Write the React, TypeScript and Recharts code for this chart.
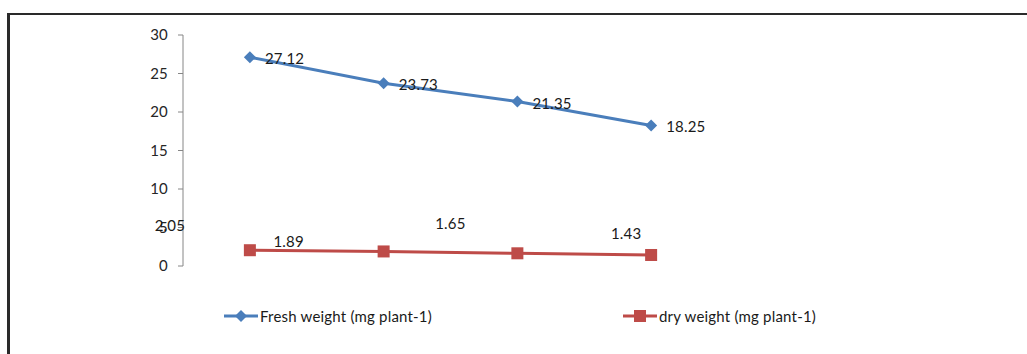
import React from 'react';
import { LineChart, Line, XAxis, YAxis, Legend, LabelList } from 'recharts';

// Treatments along the x axis (not labelled on the chart)
const categories = ['T1', 'T2', 'T3', 'T4'];
// Fresh weight (mg plant-1)
const freshWeight = [27.12, 23.73, 21.35, 18.25];
// Dry weight (mg plant-1)
const dryWeight = [2.05, 1.89, 1.65, 1.43];
// Y axis ticks
const yTicks = [0, 5, 10, 15, 20, 25, 30];

const FRESH_NAME = 'Fresh weight (mg plant-1)';
const DRY_NAME = 'dry weight (mg plant-1)';
const BLUE = '#4A7EBB';
const RED = '#BE4B48';
const FONT = 'Lato, "Open Sans", sans-serif';
const FS = 15;
const LS = 0.2;

const data = categories.map((c, i) => ({
  category: c,
  fresh: freshWeight[i],
  dry: dryWeight[i],
}));

// Where each dry-weight label sits relative to its point
const dryLabelShift: [number, number][] = [
  [-80, -25],
  [-95, -10],
  [-67, -30],
  [-25, -22],
];

const Diamond = (p: any) => {
  const { cx, cy } = p;
  if (cx == null || cy == null) return <g />;
  return (
    <path
      d={`M${cx - 6},${cy} L${cx},${cy - 6} L${cx + 6},${cy} L${cx},${cy + 6} Z`}
      fill={BLUE}
    />
  );
};

const Square = (p: any) => {
  const { cx, cy } = p;
  if (cx == null || cy == null) return <g />;
  return <rect x={cx - 6} y={cy - 6} width={12} height={12} fill={RED} />;
};

const FreshLabel = (p: any) => {
  const { x, y, value } = p;
  return (
    <text
      x={x + 15}
      y={y + 1}
      dominantBaseline="central"
      fontSize={FS}
      letterSpacing={LS}
      fontFamily={FONT}
      fill="#1a1a1a"
    >
      {value}
    </text>
  );
};

const DryLabel = (p: any) => {
  const { x, y, value, index } = p;
  const [dx, dy] = dryLabelShift[index] || [0, -15];
  return (
    <text
      x={x + dx}
      y={y + dy}
      textAnchor="middle"
      dominantBaseline="central"
      fontSize={FS}
      letterSpacing={LS}
      fontFamily={FONT}
      fill="#1a1a1a"
    >
      {value}
    </text>
  );
};

const LegendItem = ({ color, square, label }: { color: string; square: boolean; label: string }) => (
  <div style={{ display: 'flex', alignItems: 'center', width: 399 }}>
    <svg width={34} height={14} style={{ marginRight: 2 }}>
      <line x1={0} y1={7} x2={34} y2={7} stroke={color} strokeWidth={3} />
      {square ? (
        <rect x={11} y={1} width={12} height={12} fill={color} />
      ) : (
        <path d="M11,7 L17,1 L23,7 L17,13 Z" fill={color} />
      )}
    </svg>
    <span
      style={{
        fontFamily: FONT,
        fontSize: FS,
        letterSpacing: LS,
        color: '#1a1a1a',
        whiteSpace: 'nowrap',
      }}
    >
      {label}
    </span>
  </div>
);

const renderLegend = () => (
  <div style={{ display: 'flex' }}>
    <LegendItem color={BLUE} square={false} label={FRESH_NAME} />
    <LegendItem color={RED} square={true} label={DRY_NAME} />
  </div>
);

export default function App() {
  return (
    <div
      style={{
        position: 'absolute',
        left: 0,
        top: 0,
        width: 1027,
        height: 354,
        background: '#fff',
        overflow: 'hidden',
      }}
    >
      <div
        style={{
          position: 'absolute',
          left: 7,
          top: 13,
          width: 1100,
          height: 400,
          borderTop: '2px solid #2a2a2a',
          borderLeft: '3px solid #2a2a2a',
        }}
      />
      <div style={{ position: 'absolute', left: 0, top: 0 }}>
        <LineChart width={1027} height={354} data={data} margin={{ top: 35, right: 309, bottom: 88, left: 0 }}>
          <XAxis dataKey="category" scale="band" hide />
          <YAxis
            width={183}
            domain={[0, 30]}
            ticks={yTicks}
            interval={0}
            axisLine={{ stroke: '#868686' }}
            tickLine={{ stroke: '#868686' }}
            tickSize={5}
            tickMargin={10}
            tick={{ fill: '#262626', fontSize: FS, fontFamily: FONT, letterSpacing: LS }}
          />
          <Legend
            layout="horizontal"
            verticalAlign="middle"
            align="center"
            content={renderLegend}
            wrapperStyle={{ position: 'absolute', left: 224, top: 307, width: 800, height: 16 }}
          />
          <Line
            type="linear"
            dataKey="fresh"
            name={FRESH_NAME}
            stroke={BLUE}
            strokeWidth={3}
            dot={Diamond}
            activeDot={false}
            isAnimationActive={false}
          >
            <LabelList dataKey="fresh" content={FreshLabel} />
          </Line>
          <Line
            type="linear"
            dataKey="dry"
            name={DRY_NAME}
            stroke={RED}
            strokeWidth={3}
            dot={Square}
            activeDot={false}
            isAnimationActive={false}
          >
            <LabelList dataKey="dry" content={DryLabel} />
          </Line>
        </LineChart>
      </div>
    </div>
  );
}
